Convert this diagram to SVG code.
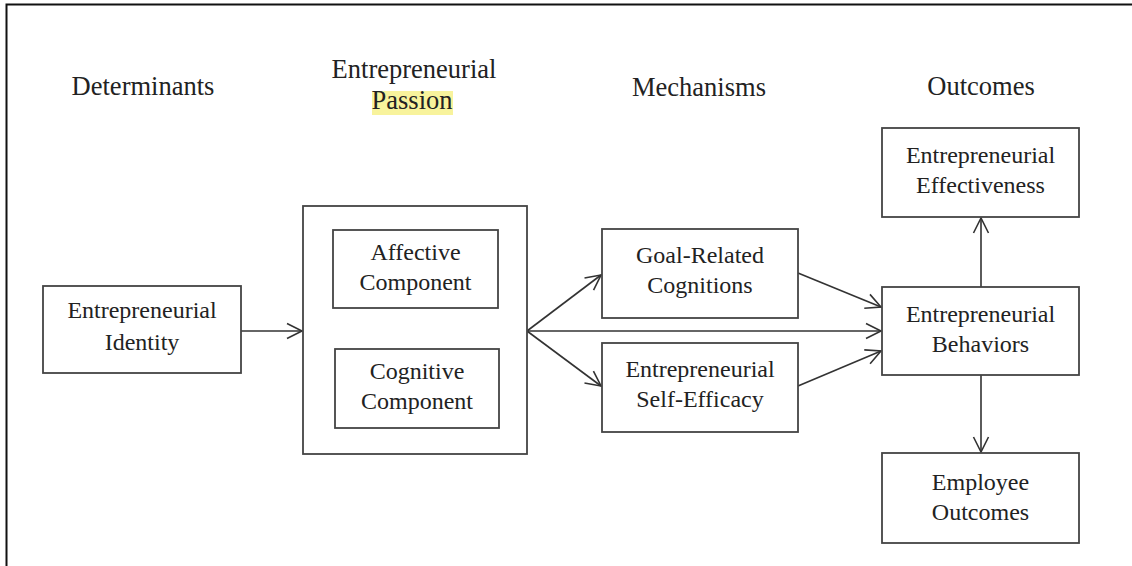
<svg xmlns="http://www.w3.org/2000/svg" width="1132" height="566" viewBox="0 0 1132 566">
<style>
  .box { fill: #fff; stroke: #444; stroke-width: 1.8; }
  .t { font-family: "Liberation Serif", "Times New Roman", serif; font-size: 24px; fill: #222; text-anchor: middle; }
  .h { font-family: "Liberation Serif", "Times New Roman", serif; font-size: 26.5px; fill: #222; text-anchor: middle; }
  .c { fill: none; stroke: #333; stroke-width: 1.6; marker-end: url(#arr); }
</style>
<defs>
  <marker id="arr" markerUnits="userSpaceOnUse" markerWidth="20" markerHeight="20" refX="16" refY="10" orient="auto" viewBox="0 0 20 20">
    <path d="M1,2.5 L16,10 L1,17.5" fill="none" stroke="#333" stroke-width="1.6"/>
  </marker>
</defs>
<rect width="1132" height="566" fill="#fff"/>
<path d="M6.5,566 V4.5 H1132" fill="none" stroke="#111" stroke-width="2"/>

<g id="headers">
  <text class="h" x="143" y="95">Determinants</text>
  <text class="h" x="414" y="78">Entrepreneurial</text>
  <rect x="372" y="91" width="81" height="24" fill="#f8f39c"/>
  <text class="h" x="412" y="109">Passion</text>
  <text class="h" x="699" y="96">Mechanisms</text>
  <text class="h" x="981" y="95">Outcomes</text>
</g>

<g id="connectors">
  <line class="c" x1="241" y1="331" x2="302" y2="331"/>
  <line class="c" x1="527" y1="331" x2="601" y2="275"/>
  <line class="c" x1="527" y1="331" x2="881" y2="331"/>
  <line class="c" x1="527" y1="331" x2="601" y2="386"/>
  <line class="c" x1="798" y1="273" x2="881" y2="307"/>
  <line class="c" x1="798" y1="386" x2="881" y2="351"/>
  <line class="c" x1="981" y1="287" x2="981" y2="218"/>
  <line class="c" x1="981" y1="375" x2="981" y2="452"/>
</g>

<g id="identity">
  <rect class="box" x="43" y="286" width="198" height="87"/>
  <text class="t" x="142" y="318">Entrepreneurial</text>
  <text class="t" x="142" y="350">Identity</text>
</g>

<g id="passion">
  <rect class="box" x="303" y="206" width="224" height="248"/>
  <g id="affective">
    <rect class="box" x="333" y="230" width="165" height="78"/>
    <text class="t" x="415.5" y="260">Affective</text>
    <text class="t" x="415.5" y="290">Component</text>
  </g>
  <g id="cognitive">
    <rect class="box" x="335" y="349" width="164" height="79"/>
    <text class="t" x="417" y="379">Cognitive</text>
    <text class="t" x="417" y="409">Component</text>
  </g>
</g>

<g id="goal">
  <rect class="box" x="602" y="229" width="196" height="89"/>
  <text class="t" x="700" y="263">Goal-Related</text>
  <text class="t" x="700" y="293">Cognitions</text>
</g>

<g id="selfefficacy">
  <rect class="box" x="602" y="343" width="196" height="89"/>
  <text class="t" x="700" y="377">Entrepreneurial</text>
  <text class="t" x="700" y="407">Self-Efficacy</text>
</g>

<g id="effectiveness">
  <rect class="box" x="882" y="128" width="197" height="89"/>
  <text class="t" x="980.5" y="163">Entrepreneurial</text>
  <text class="t" x="980.5" y="193">Effectiveness</text>
</g>

<g id="behaviors">
  <rect class="box" x="882" y="287" width="197" height="88"/>
  <text class="t" x="980.5" y="322">Entrepreneurial</text>
  <text class="t" x="980.5" y="352">Behaviors</text>
</g>

<g id="employee">
  <rect class="box" x="882" y="453" width="197" height="90"/>
  <text class="t" x="980.5" y="490">Employee</text>
  <text class="t" x="980.5" y="520">Outcomes</text>
</g>
</svg>
